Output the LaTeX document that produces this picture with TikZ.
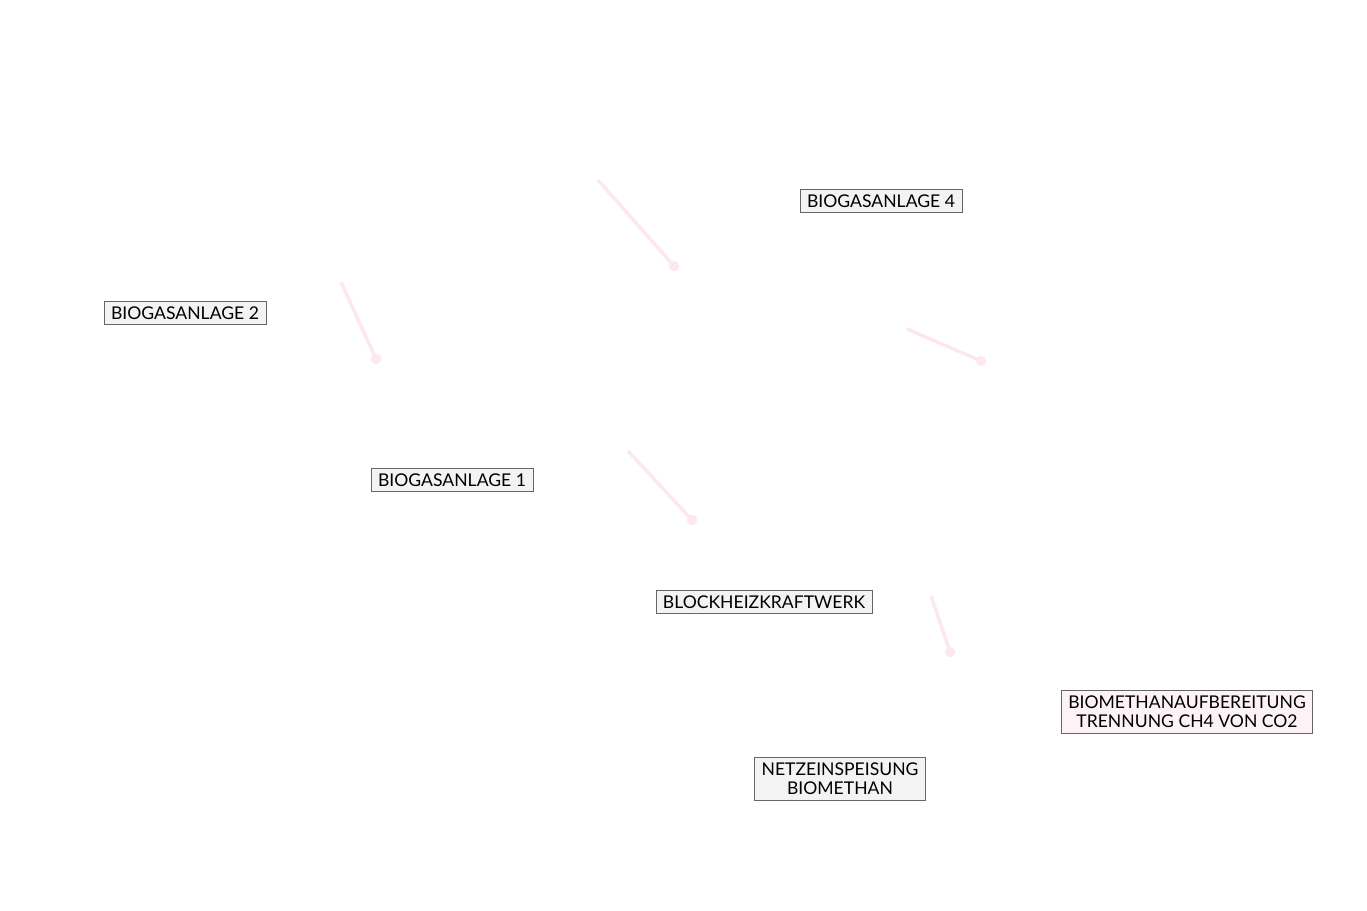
\documentclass[tikz,border=0pt]{standalone}
\usepackage{fontspec}
\setmainfont{Lato}
\usetikzlibrary{positioning}
\definecolor{linkpink}{RGB}{253,232,238}
\definecolor{boxgray}{RGB}{243,243,243}
\definecolor{boxpink}{RGB}{253,243,246}
\tikzset{
  box/.style={draw=gray!80!black, fill=boxgray, rectangle, inner xsep=4pt, inner ysep=3pt, align=center, font=\fontsize{10}{11}\selectfont},
  link/.style={draw=linkpink, line width=2pt},
  tip/.style={circle, fill=linkpink, inner sep=0pt, minimum size=6pt}
}
\begin{document}
\begin{tikzpicture}[x=0.02cm,y=-0.02cm]
\useasboundingbox (0,0) rectangle (1367,911);

\node (b4) at (881,201) [box] {BIOGASANLAGE 4};
\node (b2) at (185,313) [box] {BIOGASANLAGE 2};
\node (b1) at (452,480) [box] {BIOGASANLAGE 1};
\node (bhkw) at (764,602) [box] {BLOCKHEIZKRAFTWERK};
\node (netz) at (840,779) [box] {NETZEINSPEISUNG\\BIOMETHAN};
\node (aufb) at (1187,712) [box, fill=boxpink] {BIOMETHANAUFBEREITUNG\\TRENNUNG CH4 VON CO2};

\coordinate (s1) at (598,180); \node (e1) at (674,266) [tip] {};
\coordinate (s2) at (341,282); \node (e2) at (376,359) [tip] {};
\coordinate (s3) at (907,329); \node (e3) at (981,361) [tip] {};
\coordinate (s4) at (628,451); \node (e4) at (692,520) [tip] {};
\coordinate (s5) at (931,596); \node (e5) at (950,652) [tip] {};

\draw[link] (s1) -- (e1.center);
\draw[link] (s2) -- (e2.center);
\draw[link] (s3) -- (e3.center);
\draw[link] (s4) -- (e4.center);
\draw[link] (s5) -- (e5.center);
\end{tikzpicture}
\end{document}
